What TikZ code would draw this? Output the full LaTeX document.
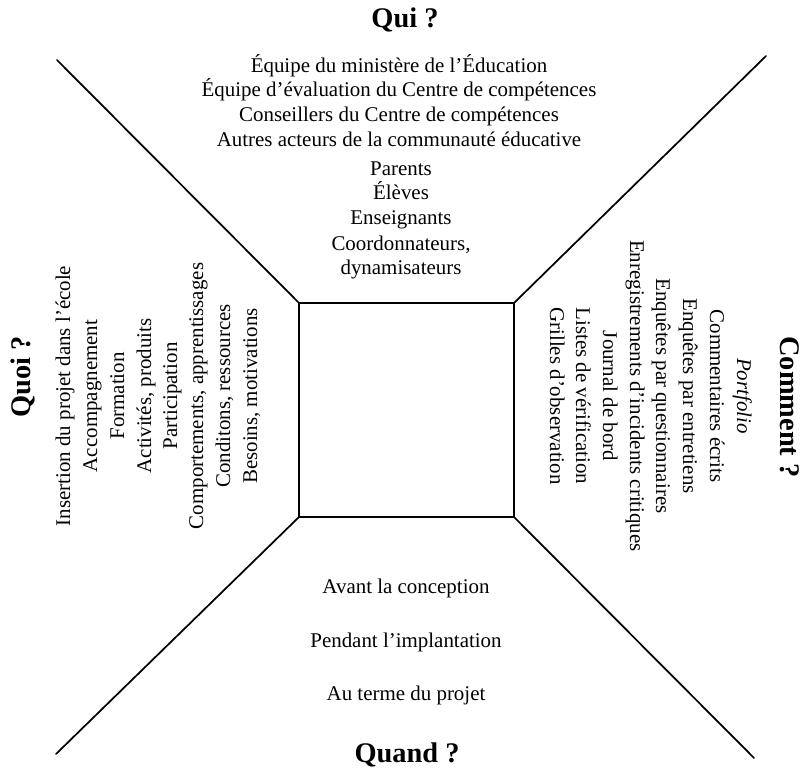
\documentclass[tikz,border=0pt]{standalone}
\usepackage{fontspec}
\setmainfont{Liberation Serif}
\begin{document}
\begin{tikzpicture}[x=0.75pt,y=-0.75pt,line cap=round,line join=round,
  item/.style={anchor=base,inner sep=0pt,font=\fontsize{15.7}{18}\selectfont},
  head/.style={anchor=base,inner sep=0pt,font=\fontsize{21.3}{25}\selectfont\bfseries}]
  \useasboundingbox (0,0) rectangle (812,773);
  \coordinate (A) at (299,303);
  \coordinate (B) at (514,303);
  \coordinate (C) at (514,517);
  \coordinate (D) at (299,517);
  \coordinate (TL) at (57,60);
  \coordinate (TR) at (766,56);
  \coordinate (BR) at (754,758);
  \coordinate (BL) at (56,754);
  \draw[line width=1.5pt] (A) -- (B) -- (C) -- (D) -- cycle;
  \draw[line width=1.3pt] (A) -- (TL);
  \draw[line width=1.3pt] (B) -- (TR);
  \draw[line width=1.3pt] (C) -- (BR);
  \draw[line width=1.3pt] (D) -- (BL);
  % qui
  \node[head] (qui) at (405,28) {Qui ?};
  \node[item] (qui1) at (399,73) {Équipe du ministère de l’Éducation};
  \node[item] (qui2) at (399,97) {Équipe d’évaluation du Centre de compétences};
  \node[item] (qui3) at (399,122) {Conseillers du Centre de compétences};
  \node[item] (qui4) at (399,147) {Autres acteurs de la communauté éducative};
  \node[item] (qui5) at (401,176) {Parents};
  \node[item] (qui6) at (401,200) {Élèves};
  \node[item] (qui7) at (401,225) {Enseignants};
  \node[item] (qui8) at (401,251) {Coordonnateurs,};
  \node[item] (qui9) at (401,274) {dynamisateurs};
  % quoi
  \node[head,rotate=90] (quoi) at (30,377) {Quoi ?};
  \node[item,rotate=90] (quoi1) at (70,396) {Insertion du projet dans l’école};
  \node[item,rotate=90] (quoi2) at (97,396) {Accompagnement};
  \node[item,rotate=90] (quoi3) at (124,396) {Formation};
  \node[item,rotate=90] (quoi4) at (151,396) {Activités, produits};
  \node[item,rotate=90] (quoi5) at (177,396) {Participation};
  \node[item,rotate=90] (quoi6) at (203,396) {Comportements, apprentissages};
  \node[item,rotate=90] (quoi7) at (230,396) {Conditons, ressources};
  \node[item,rotate=90] (quoi8) at (257,396) {Besoins, motivations};
  % comment
  \node[head,rotate=-90] (comment) at (780,407) {Comment ?};
  \node[item,rotate=-90] (com1) at (737,396) {\textit{Portfolio}};
  \node[item,rotate=-90] (com2) at (710,396) {Commentaires écrits};
  \node[item,rotate=-90] (com3) at (683,396) {Enquêtes par entretiens};
  \node[item,rotate=-90] (com4) at (656,396) {Enquêtes par questionnaires};
  \node[item,rotate=-90] (com5) at (630,396) {Enregistrements d’incidents critiques};
  \node[item,rotate=-90] (com6) at (603,396) {Journal de bord};
  \node[item,rotate=-90] (com7) at (576,396) {Listes de vérification};
  \node[item,rotate=-90] (com8) at (550,396) {Grilles d’observation};
  % quand
  \node[item] (quand1) at (406,593) {Avant la conception};
  \node[item] (quand2) at (406,647) {Pendant l’implantation};
  \node[item] (quand3) at (406,700) {Au terme du projet};
  \node[head] (quand) at (407,762) {Quand ?};
\end{tikzpicture}
\end{document}
